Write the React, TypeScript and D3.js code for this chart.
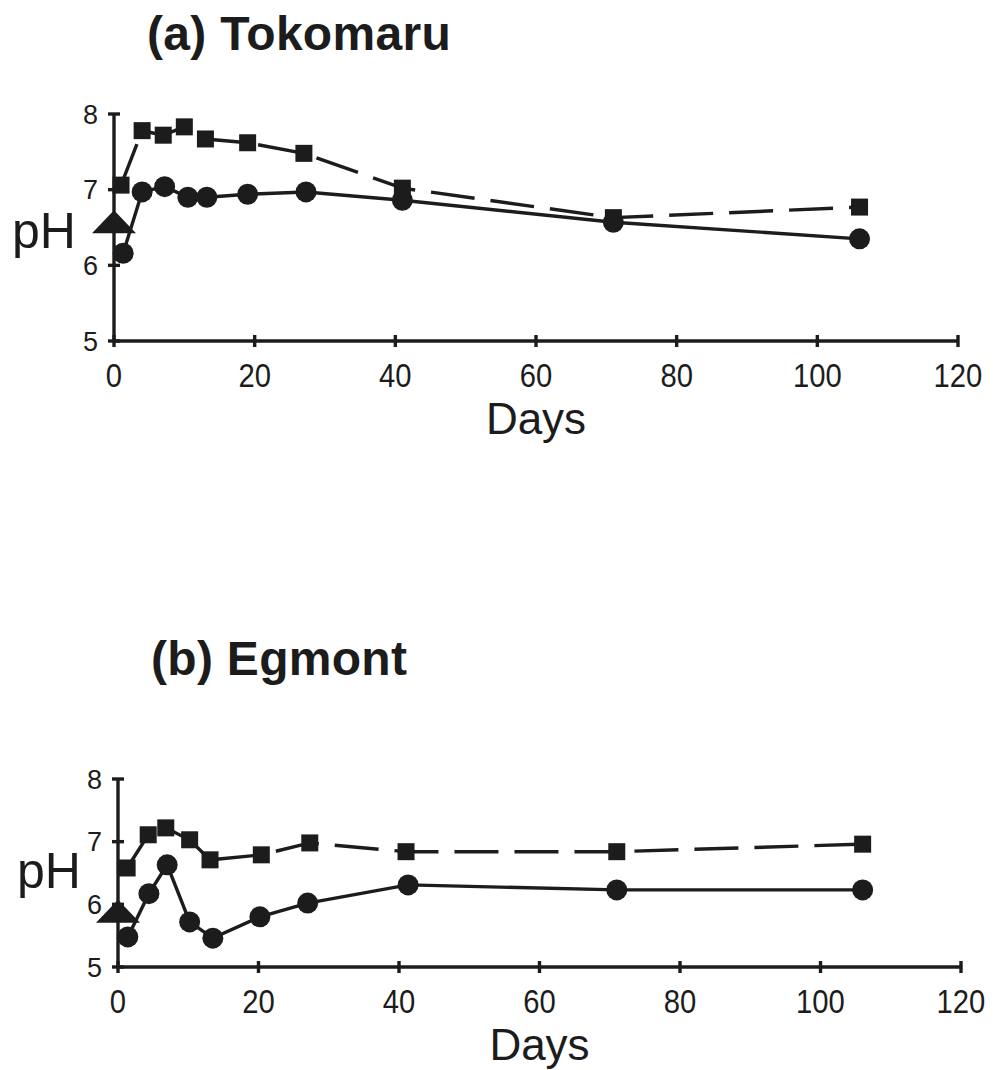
import React from 'react';
import * as d3 from 'd3';

// Tokomaru
const tokoSquareDays = [1, 4, 7, 10, 13, 19, 27, 41, 71, 106];
const tokoSquarePH = [7.06, 7.78, 7.72, 7.83, 7.67, 7.62, 7.48, 7.02, 6.63, 6.77];
const tokoCircleDays = [1.3, 4, 7.2, 10.5, 13.2, 19, 27.3, 41, 71, 106];
const tokoCirclePH = [6.16, 6.97, 7.04, 6.9, 6.9, 6.94, 6.97, 6.86, 6.57, 6.35];
const tokoTriangle = { day: 0, ph: 6.57 };

// Egmont
const egmSquareDays = [1.3, 4.3, 6.8, 10.2, 13.1, 20.4, 27.3, 41, 71, 106];
const egmSquarePH = [6.58, 7.11, 7.22, 7.03, 6.71, 6.79, 6.98, 6.84, 6.84, 6.96];
const egmCircleDays = [1.4, 4.4, 7, 10.2, 13.5, 20.2, 27, 41.3, 71, 106];
const egmCirclePH = [5.48, 6.17, 6.63, 5.72, 5.46, 5.8, 6.02, 6.31, 6.23, 6.23];
const egmTriangle = { day: 0, ph: 5.88 };

const xTicks = [0, 20, 40, 60, 80, 100, 120];
const yTicks = [5, 6, 7, 8];

const INK = '#1c1c1c';
const FONT = '"Liberation Sans", Arial, Helvetica, sans-serif';

type PanelProps = {
  title: string;
  titleX: number;
  titleY: number;
  x0: number;
  x1: number;
  yTop: number;
  yBottom: number;
  phX: number;
  phY: number;
  squareDays: number[];
  squarePH: number[];
  circleDays: number[];
  circlePH: number[];
  triangle: { day: number; ph: number };
};

const Panel = (p: PanelProps) => {
  const x = d3.scaleLinear().domain([0, 120]).range([p.x0, p.x1]);
  const y = d3.scaleLinear().domain([5, 8]).range([p.yBottom, p.yTop]);

  const squares = p.squareDays.map((d, i) => [d, p.squarePH[i]] as [number, number]);
  const circles = p.circleDays.map((d, i) => [d, p.circlePH[i]] as [number, number]);

  const line = d3
    .line<[number, number]>()
    .x(d => x(d[0]))
    .y(d => y(d[1]));

  const tx = x(p.triangle.day);
  const ty = y(p.triangle.ph);
  const tri = `M${tx},${ty - 12} L${tx + 22},${ty + 11} L${tx - 22},${ty + 11} Z`;

  return (
    <g>
      <text
        x={p.titleX}
        y={p.titleY}
        fontFamily={FONT}
        fontWeight="bold"
        fontSize={48}
        fill={INK}
        letterSpacing={0.3}
      >
        {p.title}
      </text>

      {/* axes */}
      <line x1={p.x0} x2={p.x1} y1={p.yBottom} y2={p.yBottom} stroke={INK} strokeWidth={3.4} />
      <line x1={p.x0} x2={p.x0} y1={p.yTop} y2={p.yBottom} stroke={INK} strokeWidth={3.4} />
      {xTicks.map(t => (
        <g key={'xt' + t}>
          <line
            x1={x(t)}
            x2={x(t)}
            y1={p.yBottom - 6}
            y2={p.yBottom + 6}
            stroke={INK}
            strokeWidth={3.4}
          />
          <g transform={`translate(${x(t)},${p.yBottom + 46}) scale(0.86,1)`}>
            <text textAnchor="middle" fontFamily={FONT} fontSize={34} fill={INK}>
              {t}
            </text>
          </g>
        </g>
      ))}
      {yTicks.map(t => (
        <g key={'yt' + t}>
          <line
            x1={p.x0 - 6}
            x2={p.x0 + 6}
            y1={y(t)}
            y2={y(t)}
            stroke={INK}
            strokeWidth={3.4}
          />
          <text
            x={p.x0 - 16}
            y={y(t)}
            dy="0.36em"
            textAnchor="end"
            fontFamily={FONT}
            fontSize={27}
            fill={INK}
          >
            {t}
          </text>
        </g>
      ))}

      <text x={p.phX} y={p.phY} fontFamily={FONT} fontSize={50} fill={INK}>
        pH
      </text>
      <text
        x={(p.x0 + p.x1) / 2}
        y={p.yBottom + 93}
        textAnchor="middle"
        fontFamily={FONT}
        fontSize={44}
        fill={INK}
      >
        Days
      </text>

      {/* series */}
      <path
        d={line(squares) || ''}
        fill="none"
        stroke={INK}
        strokeWidth={3.4}
        strokeDasharray="44,16"
      />
      <path d={line(circles) || ''} fill="none" stroke={INK} strokeWidth={3.4} />
      {squares.map((d, i) => (
        <rect
          key={'s' + i}
          x={x(d[0]) - 8.5}
          y={y(d[1]) - 8.5}
          width={17}
          height={17}
          fill={INK}
        />
      ))}
      {circles.map((d, i) => (
        <circle key={'c' + i} cx={x(d[0])} cy={y(d[1])} r={10.5} fill={INK} />
      ))}
      <path d={tri} fill={INK} />
    </g>
  );
};

export default function App() {
  return (
    <svg width={1003} height={1070} style={{ display: 'block', position: 'absolute', left: 0, top: 0 }}>
      <rect width={1003} height={1070} fill="#fff" />
      <Panel
        title="(a) Tokomaru"
        titleX={147}
        titleY={50}
        x0={114}
        x1={958}
        yTop={114}
        yBottom={341}
        phX={12}
        phY={248}
        squareDays={tokoSquareDays}
        squarePH={tokoSquarePH}
        circleDays={tokoCircleDays}
        circlePH={tokoCirclePH}
        triangle={tokoTriangle}
      />
      <Panel
        title="(b) Egmont"
        titleX={151}
        titleY={675}
        x0={118}
        x1={961}
        yTop={779}
        yBottom={967}
        phX={17}
        phY={888}
        squareDays={egmSquareDays}
        squarePH={egmSquarePH}
        circleDays={egmCircleDays}
        circlePH={egmCirclePH}
        triangle={egmTriangle}
      />
    </svg>
  );
}
